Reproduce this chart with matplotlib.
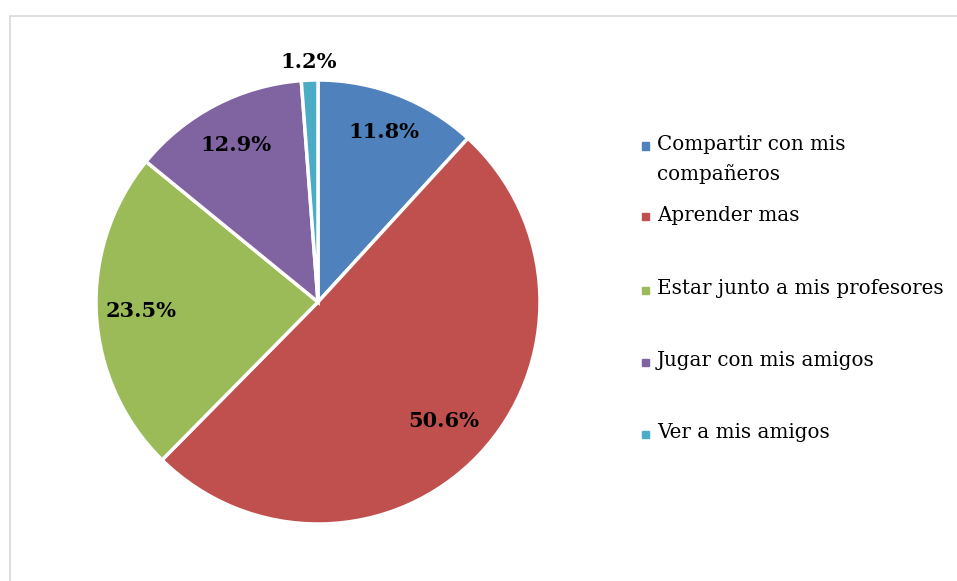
import matplotlib
matplotlib.use("Agg")
import matplotlib.pyplot as plt
import numpy as np
from matplotlib.patches import Rectangle

# data
labels = ["Compartir con mis\ncompañeros", "Aprender mas", "Estar junto a mis profesores",
          "Jugar con mis amigos", "Ver a mis amigos"]
values = [11.8, 50.6, 23.5, 12.9, 1.2]
colors = ["#4F81BD", "#C0504D", "#9BBB59", "#8064A2", "#4BACC6"]
label_dist = [0.82, 0.78, 0.80, 0.80, 1.08]

W, H = 957, 581
fig = plt.figure(figsize=(W / 100, H / 100), dpi=100)

# light gray chart frame
fig.patches.append(Rectangle((9.5 / W, -0.5), 2, (H - 15.5) / H + 0.5, transform=fig.transFigure,
                             fill=False, edgecolor="#d9d9d9", lw=1.2))

cx, cy, r = 318, H - 302, 222
ax = fig.add_axes([(cx - r) / W, (cy - r) / H, 2 * r / W, 2 * r / H])
wedges, texts, autotexts = ax.pie(values, colors=colors, startangle=90, counterclock=False,
                                  autopct="%.1f%%", pctdistance=0.8,
                                  wedgeprops=dict(edgecolor="white", linewidth=2.5))
ax.set_xlim(-1, 1)
ax.set_ylim(-1, 1)
ax.set_aspect("equal")
ax.axis("off")

# move data labels to where excel put them
for w, t, d in zip(wedges, autotexts, label_dist):
    ang = np.deg2rad((w.theta1 + w.theta2) / 2)
    t.set_position((d * np.cos(ang), d * np.sin(ang)))
    t.set_fontfamily("DejaVu Serif")
    t.set_fontweight("bold")
    t.set_fontsize(15)
    t.set_color("black")

# legend drawn by hand (Excel spacing is uneven)
leg_y = [146, 217, 290, 362, 434]
for lab, col, y in zip(labels, colors, leg_y):
    fig.patches.append(Rectangle((641.5 / W, (H - y - 3.5) / H), 7 / W, 7 / H,
                                 transform=fig.transFigure, color=col))
    fig.text(657 / W, (H - y + 11) / H, lab, ha="left", va="top",
             fontsize=14.3, family="DejaVu Serif", linespacing=1.6)

fig.savefig("out.png", dpi=100)
